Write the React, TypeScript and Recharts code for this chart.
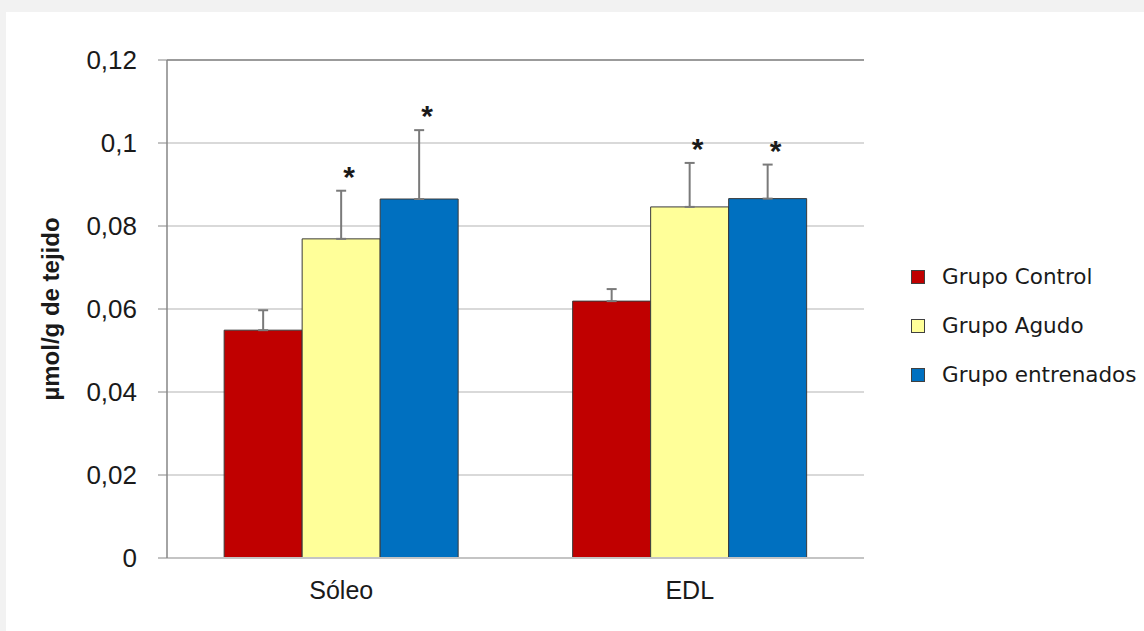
import React from 'react';
import {
  BarChart,
  Bar,
  XAxis,
  YAxis,
  CartesianGrid,
  ErrorBar,
  LabelList,
  Legend,
  ReferenceLine,
} from 'recharts';

const CATEGORIES = ['Sóleo', 'EDL'];
const CONTROL = [0.0549, 0.0619];
const CONTROL_ERR = [0.0048, 0.0029];
const AGUDO = [0.0769, 0.0846];
const AGUDO_ERR = [0.0116, 0.0106];
const ENTRENADOS = [0.0865, 0.0866];
const ENTRENADOS_ERR = [0.0166, 0.0082];
const CONTROL_SIG = [false, false];
const AGUDO_SIG = [true, true];
const ENTRENADOS_SIG = [true, true];
const Y_TICKS = [0, 0.02, 0.04, 0.06, 0.08, 0.1, 0.12];

const SERIES = [
  { key: 'control', name: 'Grupo Control', color: '#c00000', values: CONTROL, err: CONTROL_ERR, sig: CONTROL_SIG },
  { key: 'agudo', name: 'Grupo Agudo', color: '#ffff99', values: AGUDO, err: AGUDO_ERR, sig: AGUDO_SIG },
  { key: 'entrenados', name: 'Grupo entrenados', color: '#0070c0', values: ENTRENADOS, err: ENTRENADOS_ERR, sig: ENTRENADOS_SIG },
];

const data = CATEGORIES.map((name, i) => {
  const row: Record<string, any> = { name };
  SERIES.forEach((s) => {
    row[s.key] = s.values[i];
    row[s.key + 'Err'] = [0, s.err[i]];
    row[s.key + 'Sig'] = s.sig[i] ? '*' : '';
  });
  return row;
});

const AXIS_GRAY = '#868686';
const TEXT = '#1a1a1a';

function starLabel(s: (typeof SERIES)[number]) {
  return (props: any) => {
    const { x, y, width, height, index, value } = props;
    if (!value) return null;
    const v = s.values[index];
    const errPx = (s.err[index] * Number(height)) / v;
    const top = Number(y) - errPx;
    return (
      <text
        x={Number(x) + Number(width) / 2 + 8}
        y={top - 4}
        textAnchor="middle"
        fontFamily="Liberation Sans, Arial, sans-serif"
        fontWeight="bold"
        fontSize={30}
        fill={TEXT}
      >
        {value}
      </text>
    );
  };
}

function LegendBox() {
  return (
    <div style={{ fontFamily: '"DejaVu Sans", Verdana, sans-serif', fontSize: 21.5, color: TEXT }}>
      {SERIES.map((s) => (
        <div key={s.key} style={{ height: 49, display: 'flex', alignItems: 'center' }}>
          <span
            style={{
              width: 12,
              height: 12,
              background: s.color,
              border: '1px solid #404040',
              marginRight: 17,
              display: 'inline-block',
            }}
          />
          <span style={{ whiteSpace: 'nowrap' }}>{s.name}</span>
        </div>
      ))}
    </div>
  );
}

export default function App() {
  return (
    <div style={{ position: 'absolute', left: 0, top: 0, width: 1144, height: 631, background: '#f2f2f2', overflow: 'hidden' }}>
      <div style={{ position: 'absolute', left: 6, top: 12, width: 1138, height: 619, background: '#ffffff' }}>
        <BarChart
          width={1138}
          height={619}
          data={data}
          margin={{ top: 48, right: 280, bottom: 33, left: 0 }}
          barCategoryGap="16.4%"
          barGap={0}
        >
          <CartesianGrid vertical={false} stroke="#d9d9d9" strokeWidth={2} />
          <XAxis
            xAxisId="edges"
            type="number"
            domain={[0, 2]}
            ticks={[0, 1, 2]}
            tick={false}
            axisLine={false}
            tickLine={{ stroke: AXIS_GRAY, strokeWidth: 1 }}
            tickSize={8}
            height={0}
          />
          <XAxis
            dataKey="name"
            tickLine={false}
            axisLine={{ stroke: '#c4c4c4', strokeWidth: 2 }}
            tickSize={8}
            tickMargin={15}
            height={40}
            tick={{ fontFamily: 'Liberation Sans, Arial, sans-serif', fontSize: 25, fill: TEXT }}
          />
          <YAxis
            domain={[0, 0.12]}
            ticks={Y_TICKS}
            width={161}
            tickSize={9}
            tickMargin={21}
            axisLine={{ stroke: AXIS_GRAY, strokeWidth: 1.5 }}
            tickLine={{ stroke: AXIS_GRAY, strokeWidth: 1 }}
            tickFormatter={(v: number) => String(v).replace('.', ',')}
            tick={{ fontFamily: 'Liberation Sans, Arial, sans-serif', fontSize: 26, fill: TEXT }}
            label={(props: any) => {
              const vb = props.viewBox || {};
              const cx = 44;
              const cy = Number(vb.y) + Number(vb.height) / 2;
              return (
                <text
                  x={cx}
                  y={cy}
                  transform={`rotate(-90, ${cx}, ${cy})`}
                  textAnchor="middle"
                  dominantBaseline="central"
                  fontFamily="Liberation Sans, Arial, sans-serif"
                  fontWeight="bold"
                  fontSize={24}
                  fill={TEXT}
                >
                  µmol/g de tejido
                </text>
              );
            }}
          />
          <ReferenceLine y={0.12} stroke={AXIS_GRAY} strokeWidth={1.5} />
          <ReferenceLine xAxisId="edges" x={2} stroke={AXIS_GRAY} strokeWidth={1.5} />
          {SERIES.map((s) => (
            <Bar
              key={s.key}
              dataKey={s.key}
              name={s.name}
              fill={s.color}
              stroke="#3a3a3a"
              strokeWidth={1}
              isAnimationActive={false}
            >
              <ErrorBar dataKey={s.key + 'Err'} width={5} stroke="#7a7a7a" strokeWidth={2} direction="y" />
              <LabelList dataKey={s.key + 'Sig'} content={starLabel(s)} />
            </Bar>
          ))}
          <Legend
            layout="vertical"
            align="center"
            verticalAlign="middle"
            content={() => <LegendBox />}
            wrapperStyle={{ position: 'absolute', left: 905, top: 240, width: 240 }}
          />
        </BarChart>
      </div>
    </div>
  );
}
